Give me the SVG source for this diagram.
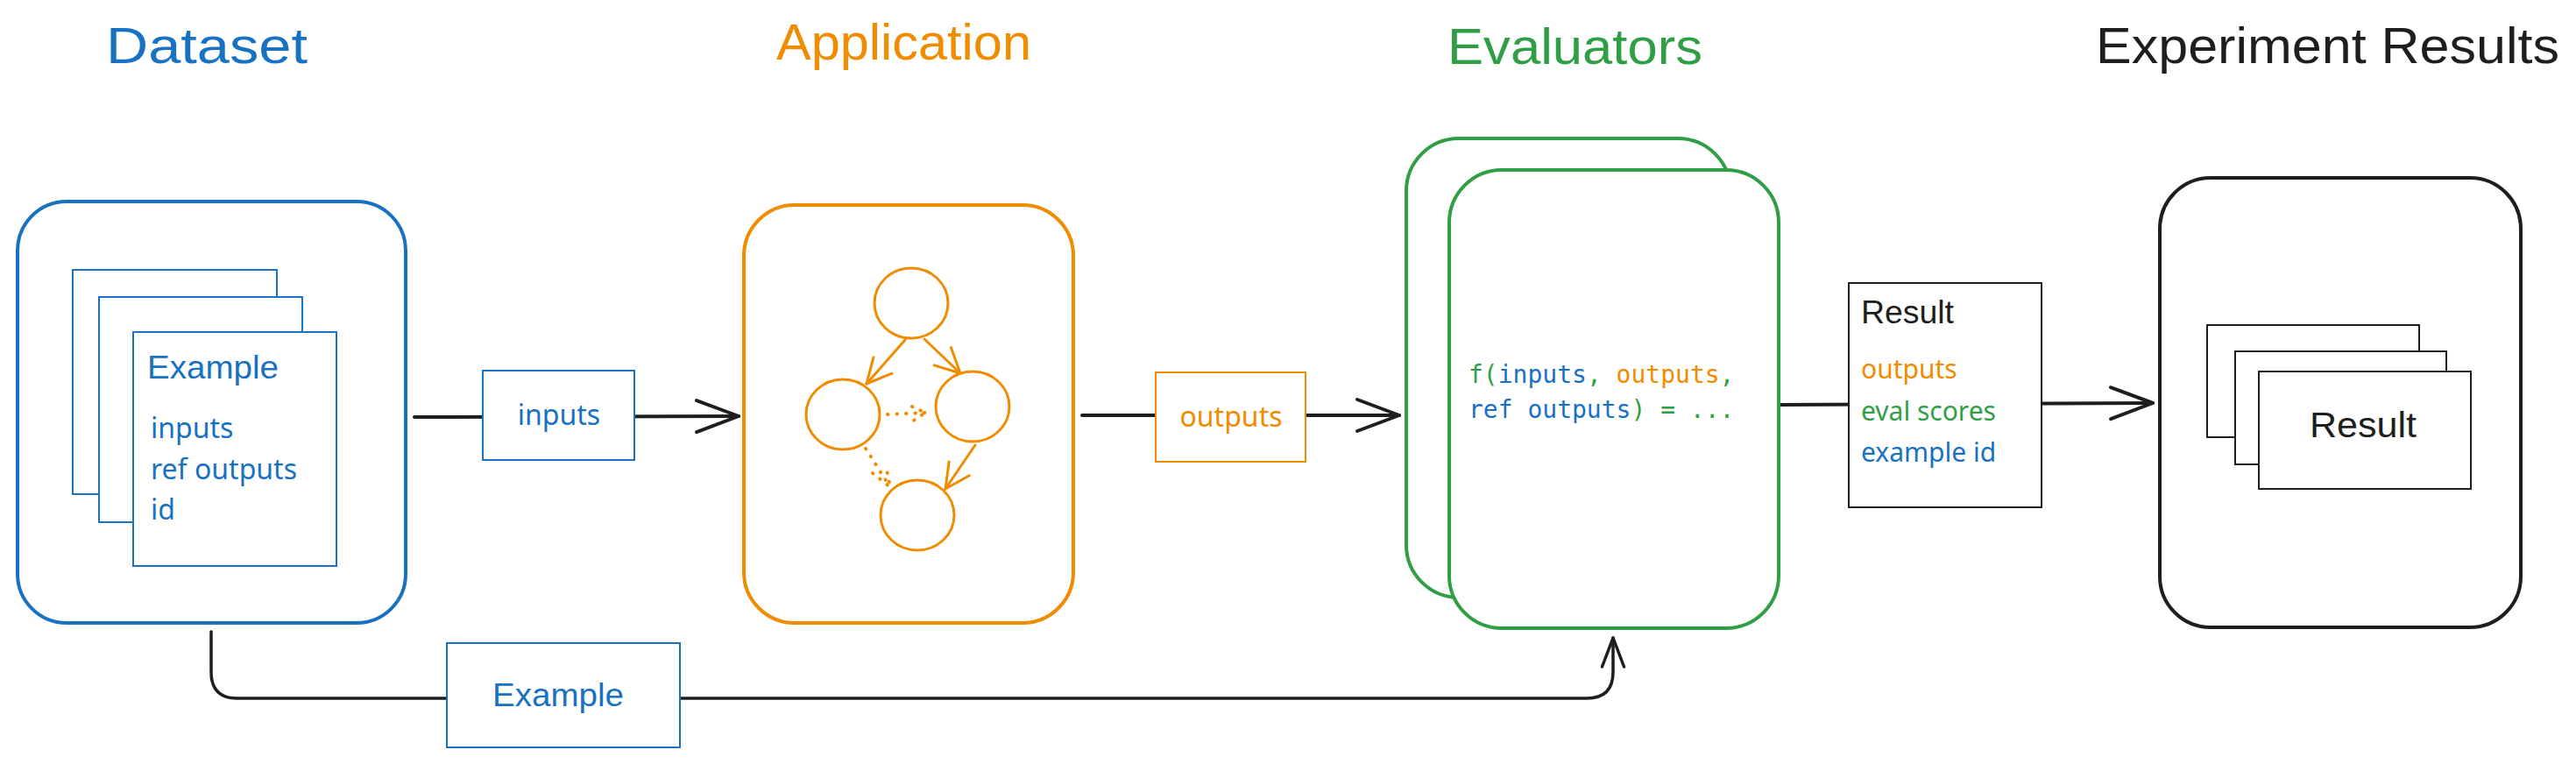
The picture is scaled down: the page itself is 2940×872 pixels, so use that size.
<svg xmlns="http://www.w3.org/2000/svg" width="2940" height="872" viewBox="0 0 2940 872">
<style>
.title{font-family:"Liberation Sans",Arial,sans-serif;font-size:57px;}
.hand{font-family:"Liberation Sans",Arial,sans-serif;}
.body{font-family:"Noto Sans","Liberation Sans",sans-serif;font-size:32px;}
.small{font-size:30px;}
.code{font-family:"DejaVu Sans Mono","Liberation Mono",monospace;font-size:28px;}
.blue{fill:#1971c2}
.orange{fill:#f08c00}
.green{fill:#2f9e44}
.black{fill:#1e1e1e}
.big{fill:#fff;stroke-width:4}
.card{fill:#fff;stroke-width:2}
.sb{stroke:#1971c2}
.so{stroke:#f08c00}
.sg{stroke:#2f9e44}
.sk{stroke:#1e1e1e}
.conn{fill:none;stroke:#1e1e1e;stroke-width:4;stroke-linecap:round;stroke-linejoin:round}
.gline{fill:none;stroke:#f08c00;stroke-width:3;stroke-linecap:round;stroke-linejoin:round}
.dots{fill:none;stroke:#f08c00;stroke-width:4;stroke-linecap:round;stroke-dasharray:0.5 10}
</style>
<defs>
<marker id="arrow" viewBox="0 0 56 44" markerWidth="56" markerHeight="44" refX="52" refY="22" orient="auto" markerUnits="userSpaceOnUse">
<path d="M4 4 L52 22 L4 40" fill="none" stroke="#1e1e1e" stroke-width="4" stroke-linecap="round" stroke-linejoin="round"/>
</marker>
<marker id="arrowS" viewBox="0 0 40 32" markerWidth="40" markerHeight="32" refX="36" refY="16" orient="auto" markerUnits="userSpaceOnUse">
<path d="M3 3.5 L36 16 L3 28.5" fill="none" stroke="#1e1e1e" stroke-width="3.5" stroke-linecap="round" stroke-linejoin="round"/>
</marker>
<marker id="arrowO" viewBox="0 0 36 36" markerWidth="36" markerHeight="36" refX="32" refY="18" orient="auto" markerUnits="userSpaceOnUse">
<path d="M4 4 L32 18 L4 32" fill="none" stroke="#f08c00" stroke-width="3" stroke-linecap="round" stroke-linejoin="round"/>
</marker>
</defs>
<rect x="0" y="0" width="2940" height="872" fill="#fff"/>

<g id="connectors">
<path class="conn" d="M473 476 L843 475" marker-end="url(#arrow)"/>
<path class="conn" d="M1235 474 L1597 474" marker-end="url(#arrow)"/>
<path class="conn" d="M2030 462 L2457 460" marker-end="url(#arrow)"/>
<path class="conn" style="stroke-width:3.5" d="M241 721 V767 Q241 797 271 797 H1811 Q1841 797 1841 767 V728" marker-end="url(#arrowS)"/>
<g id="label-inputs">
<rect class="card sb" x="551" y="423" width="173" height="102"/>
<text class="body blue" x="638" y="485" text-anchor="middle">inputs</text>
</g>
<g id="label-outputs">
<rect class="card so" x="1319" y="425" width="171" height="102"/>
<text class="body orange" x="1405" y="487" text-anchor="middle">outputs</text>
</g>
<g id="label-result">
<rect class="card sk" x="2110" y="323" width="220" height="256"/>
<text class="hand black" x="2124" y="369" font-size="36" textLength="106" lengthAdjust="spacingAndGlyphs">Result</text>
<text class="body small orange" x="2124" y="432">outputs</text>
<text class="body small green" x="2124" y="480">eval scores</text>
<text class="body small blue" x="2124" y="527">example id</text>
</g>
<g id="label-example">
<rect class="card sb" x="510" y="734" width="266" height="119"/>
<text class="hand blue" x="562" y="806" font-size="36" textLength="150" lengthAdjust="spacingAndGlyphs">Example</text>
</g>
</g>

<g id="dataset">
<text class="title blue" x="121" y="72" textLength="230" lengthAdjust="spacingAndGlyphs">Dataset</text>
<rect class="big sb" x="20" y="230" width="443" height="481" rx="56"/>
<rect class="card sb" x="83" y="308" width="233" height="256"/>
<rect class="card sb" x="113" y="339" width="232" height="257"/>
<rect class="card sb" x="152" y="379" width="232" height="267"/>
<text class="hand blue" x="168" y="432" font-size="36" textLength="150" lengthAdjust="spacingAndGlyphs">Example</text>
<text class="body blue" x="172" y="500">inputs</text>
<text class="body blue" x="172" y="547">ref outputs</text>
<text class="body blue" x="172" y="593">id</text>
</g>

<g id="application">
<text class="title orange" x="886" y="68" textLength="291" lengthAdjust="spacingAndGlyphs">Application</text>
<rect class="big so" x="849" y="234" width="376" height="477" rx="58"/>
<ellipse cx="1040" cy="346" rx="42" ry="40" fill="none" stroke="#f08c00" stroke-width="3"/>
<ellipse cx="962" cy="473" rx="42" ry="40" fill="none" stroke="#f08c00" stroke-width="3"/>
<ellipse cx="1110" cy="464" rx="42" ry="40" fill="none" stroke="#f08c00" stroke-width="3"/>
<ellipse cx="1047" cy="588" rx="42" ry="40" fill="none" stroke="#f08c00" stroke-width="3"/>
<path class="gline" d="M1033 388 L989 438" marker-end="url(#arrowO)"/>
<path class="gline" d="M1055 387 L1096 426" marker-end="url(#arrowO)"/>
<path class="gline" d="M1113 508 L1079 558" marker-end="url(#arrowO)"/>
<path class="dots" d="M1013 473 L1056 471 M1041 464 L1056 471 L1041 481"/>
<path class="dots" d="M988 512 L1016 556 M996 540 L1016 556 L1011 531"/>
</g>

<g id="evaluators">
<text class="title green" x="1652" y="73" textLength="291" lengthAdjust="spacingAndGlyphs">Evaluators</text>
<rect class="big sg" x="1605" y="158" width="370" height="524" rx="60"/>
<rect class="big sg" x="1654" y="194" width="376" height="523" rx="60"/>
<text class="code" x="1676" y="437" xml:space="preserve"><tspan class="green">f(</tspan><tspan class="blue">inputs</tspan><tspan class="green">, </tspan><tspan class="orange">outputs</tspan><tspan class="green">,</tspan></text>
<text class="code" x="1676" y="477" xml:space="preserve"><tspan class="blue">ref outputs</tspan><tspan class="green">) = ...</tspan></text>
</g>

<g id="experiment-results">
<text class="title black" x="2392" y="72" textLength="529" lengthAdjust="spacingAndGlyphs">Experiment Results</text>
<rect class="big sk" x="2465" y="203" width="412" height="513" rx="58"/>
<rect class="card sk" x="2519" y="371" width="242" height="128"/>
<rect class="card sk" x="2551" y="401" width="241" height="129"/>
<rect class="card sk" x="2578" y="424" width="242" height="134"/>
<text class="hand black" x="2636" y="499" font-size="40" textLength="122" lengthAdjust="spacingAndGlyphs">Result</text>
</g>
</svg>
